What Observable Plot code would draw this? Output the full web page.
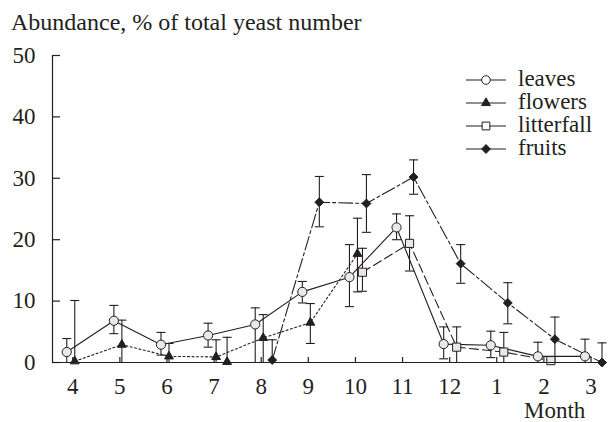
<!DOCTYPE html>
<html><head><meta charset="utf-8">
<script src="https://cdn.jsdelivr.net/npm/d3@7"></script>
<script src="https://cdn.jsdelivr.net/npm/@observablehq/plot@0.6"></script>
<style>
body{margin:0;background:#fff;font-family:'Liberation Serif';}
.wrapbox{position:relative;width:610px;height:422px;color:#231f20;overflow:hidden;font-family:'Liberation Serif';}
.ttl{position:absolute;left:11px;top:10px;font-size:24px;line-height:1;white-space:nowrap;font-family:'Liberation Serif';}
.mth{position:absolute;left:524px;top:399px;font-size:23px;line-height:1;white-space:nowrap;font-family:'Liberation Serif';}
.plt{position:absolute;left:0;top:40px;font-family:'Liberation Serif';}
.lgd{position:absolute;left:0;top:0;pointer-events:none;font-family:'Liberation Serif';}
</style></head><body>
<div class="wrapbox">
<div class="ttl">Abundance, % of total yeast number</div>
<div class="plt"></div>
<div class="mth">Month</div>
<svg class="lgd" width="610" height="422"></svg>
</div>
<script>
// ---- data ----
const months = ["4","5","6","7","8","9","10","11","12","1","2","3"];
const yTicks = [0,10,20,30,40,50];

const leavesMonths = ["4","5","6","7","8","9","10","11","12","1","2","3"];
const leavesMean = [1.7,6.8,2.9,4.4,6.2,11.5,13.9,22.0,3.0,2.8,1.0,1.0];
const leavesHi   = [3.9,9.3,4.9,6.4,8.9,13.2,19.2,24.2,5.8,5.1,3.3,3.8];
const leavesLo   = [0,4.7,1.2,2.5,0,9.7,9.1,20.0,0.6,0.8,0,0];

const flowersMonths = ["4","5","6","7","8","9","10"];
const flowersMean = [0.2,2.9,1.0,0.9,4.0,6.5,17.7];
const flowersHi   = [10.1,6.9,3.1,3.7,7.8,9.6,23.5];
const flowersLo   = [0,0,0,0,0,3.1,11.5];

// an extra, unconnected flowers sample drawn just right of July
const flowersExtraMonths = ["7"];
const flowersExtraMean = [0.1];
const flowersExtraHi = [4.1];
const flowersExtraLo = [0];

const litterMonths = ["10","11","12","1","2"];
const litterMean = [14.7,19.4,2.5,1.7,0.3];
const litterHi   = [18.6,23.9,5.8,4.9,0.3];
const litterLo   = [11.6,14.9,0,0,0.3];

const fruitsMonths = ["8","9","10","11","12","1","2","3"];
const fruitsMean = [0.4,26.1,25.9,30.2,16.1,9.7,3.8,0];
const fruitsHi   = [3.7,30.3,30.6,33.0,19.2,13.0,7.4,3.2];
const fruitsLo   = [0,22.1,21.2,27.4,12.9,6.3,0,0];

const seriesNames = ["leaves","flowers","litterfall","fruits"];

// ---- build ----
const idx = m => months.indexOf(m);
const rows = (ms, mean, hi, lo) => ms.map((m, i) => ({x: idx(m), y: mean[i], hi: hi[i], lo: lo[i]}));

const ink = "#231f20";
const light = "#e9e9e9";
const serif = "Liberation Serif";
const series = [
  {data: rows(leavesMonths, leavesMean, leavesHi, leavesLo), dx: -6, dash: null, symbol: "circle", r: 4.6, fill: light, line: true},
  {data: rows(flowersMonths, flowersMean, flowersHi, flowersLo), dx: 2, dash: "2,2.5", symbol: "triangle", r: 3.3, fill: ink, line: true},
  {data: rows(flowersExtraMonths, flowersExtraMean, flowersExtraHi, flowersExtraLo), dx: 13, dash: null, symbol: "triangle", r: 3.3, fill: ink, line: false},
  {data: rows(litterMonths, litterMean, litterHi, litterLo), dx: 7, dash: "9,4", symbol: "square", r: 4.6, fill: light, line: true},
  {data: rows(fruitsMonths, fruitsMean, fruitsHi, fruitsLo), dx: 11, dash: "14,3,3,3", symbol: "diamond2", r: 4, fill: ink, line: true}
];

const cap = {draw(ctx, size) { const w = Math.sqrt(size / Math.PI); ctx.moveTo(-w, 0); ctx.lineTo(w, 0); }};
const xDomain = [-0.43, 11.35];

const marks = [];
for (const s of series) {
  if (s.line) marks.push(Plot.line(s.data, {x: "x", y: "y", dx: s.dx, stroke: ink, strokeWidth: 1.1, strokeDasharray: s.dash}));
}
for (const s of series) {
  const bars = s.data.filter(d => d.hi > d.lo);
  marks.push(Plot.ruleX(bars, {x: "x", y1: "lo", y2: "hi", dx: s.dx, stroke: ink, strokeWidth: 1.1}));
  marks.push(Plot.dot(bars.filter(d => d.hi > d.y), {x: "x", y: "hi", dx: s.dx, symbol: cap, r: 4.5, stroke: ink, strokeWidth: 1.1, fill: "none"}));
  marks.push(Plot.dot(bars.filter(d => d.lo > 0), {x: "x", y: "lo", dx: s.dx, symbol: cap, r: 4.5, stroke: ink, strokeWidth: 1.1, fill: "none"}));
}
for (const s of series) {
  marks.push(Plot.dot(s.data, {x: "x", y: "y", dx: s.dx, symbol: s.symbol, r: s.r, fill: s.fill, stroke: ink, strokeWidth: 1}));
}
marks.push(Plot.ruleY([0], {stroke: ink, strokeWidth: 1.2}));
marks.push(Plot.ruleX([xDomain[0]], {y1: 0, y2: 50, stroke: ink, strokeWidth: 1.2}));
marks.push(Plot.axisY({ticks: yTicks, tickSize: 8, dx: 8, tickFormat: () => "", label: null, stroke: ink, strokeWidth: 1.2}));
marks.push(Plot.axisY({ticks: yTicks, tickSize: 0, tickPadding: 17, label: null, fontSize: 23, fontFamily: serif, fill: ink}));
marks.push(Plot.axisX({ticks: d3.range(months.length), tickSize: 5, dy: -5, tickFormat: () => "", label: null, stroke: ink, strokeWidth: 1.2}));
marks.push(Plot.axisX({ticks: d3.range(months.length), tickSize: 0, tickPadding: 15, tickFormat: i => months[i], label: null, fontSize: 23, fontFamily: serif, fill: ink}));

const chart = Plot.plot({
  width: 610, height: 382,
  marginLeft: 52, marginRight: 3, marginTop: 15, marginBottom: 60,
  style: {fontFamily: serif, fontSize: "23px", background: "transparent", color: ink},
  x: {type: "linear", domain: xDomain},
  y: {domain: [0, 50]},
  marks
});
document.querySelector(".plt").appendChild(chart);

// legend
const lg = d3.select(".lgd");
const rowY = [80, 103, 126, 149];
const legSym = [
  {type: d3.symbolCircle, size: Math.PI * 4.3 * 4.3, fill: "#fff"},
  {type: d3.symbolTriangle, size: Math.PI * 3.3 * 3.3, fill: ink},
  {type: d3.symbolSquare, size: 60, fill: "#fff"},
  {type: d3.symbolDiamond2, size: Math.PI * 4 * 4, fill: ink}
];
seriesNames.forEach((name, i) => {
  const g = lg.append("g").attr("transform", `translate(0,${rowY[i]})`);
  g.append("line").attr("x1", 466).attr("x2", 506).attr("y1", 0).attr("y2", 0).attr("stroke", ink).attr("stroke-width", 1.1);
  g.append("path").attr("transform", "translate(486,0)").attr("d", d3.symbol(legSym[i].type, legSym[i].size)())
    .attr("fill", legSym[i].fill).attr("stroke", ink).attr("stroke-width", 1);
  g.append("text").attr("x", 518).attr("y", 6).attr("font-family", serif)
    .attr("font-size", 23).attr("fill", ink).text(name);
});
</script>
</body></html>
